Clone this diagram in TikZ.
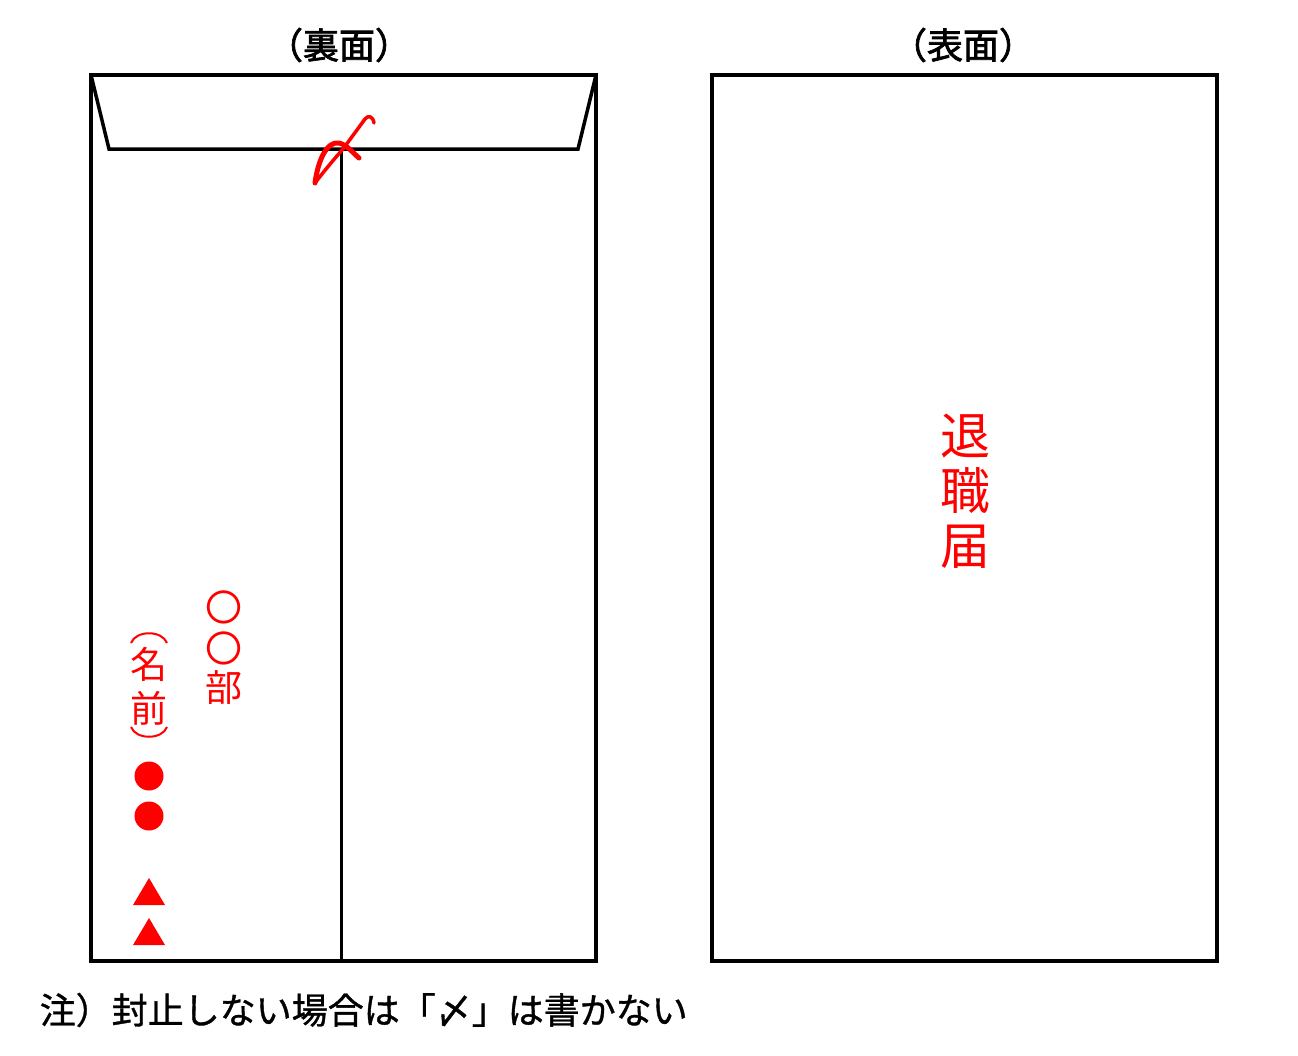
\documentclass[tikz,border=0pt]{standalone}
\usepackage{fontspec}
\setmainfont{Noto Sans CJK JP}
\newfontfamily\jpbold[FakeBold=2]{Noto Sans CJK JP}
\newfontfamily\jpmid[FakeBold=1]{Noto Sans CJK JP}
\definecolor{sealred}{RGB}{255,0,0}
\tikzset{
  redtxt/.style={text=sealred,font=\fontsize{37}{37}\selectfont,inner sep=0pt},
  bigred/.style={text=sealred,font=\fontsize{50}{50}\selectfont,inner sep=0pt},
  seal/.style={draw=sealred,line width=5pt,line cap=round,line join=round}
}
\begin{document}
\begin{tikzpicture}[x=1pt,y=-1pt,line width=3.5pt]
  \useasboundingbox (0,0) rectangle (1298,1055);
  % titles
  \node[font=\jpbold\fontsize{36}{36}\selectfont] (ura) at (339,45) {（裏面）};
  \node[font=\jpbold\fontsize{36}{36}\selectfont] (omote) at (963,45) {（表面）};
  % back of envelope
  \draw (91,75) rectangle (596,961);
  \draw (91,75) -- (109,149) -- (578,149) -- (596,75);
  \draw[line width=3pt] (341,149) -- (341,961);
  % seal mark
  \draw[seal] (315,183) .. controls (318,160) and (327,141) .. (339,143)
        .. controls (347,145) and (352,152) .. (359,158);
  \draw[seal, line width=3.5pt] (315,183) .. controls (325,170) and (335,158) .. (343,149) -- (365,119)
        .. controls (368,115) and (373,116) .. (374,123);
  % department
  \foreach \c/\y [count=\i] in {〇/607,〇/648,部/688}
    \node[redtxt] (bu\i) at (224,\y) {\c};
  % name
  \draw[sealred,line width=2pt] (131,643) .. controls (136,630) and (162,630) .. (167,643);
  \foreach \c/\y [count=\i] in {名/664,前/708}
    \node[redtxt] (na\i) at (149,\y) {\c};
  \draw[sealred,line width=2pt] (131,727) .. controls (136,740) and (162,740) .. (167,727);
  \foreach \y in {776,816}
    \fill[sealred] (149,\y) circle (14.5);
  \foreach \y in {878,918}
    \fill[sealred] (149,\y) -- (165,\y+27) -- (133,\y+27) -- cycle;
  % front of envelope
  \draw (712,75) rectangle (1217,961);
  \foreach \c/\y [count=\i] in {退/436,職/491,届/547}
    \node[bigred] (ti\i) at (965,\y) {\c};
  % note
  \node[anchor=west,inner sep=0pt,font=\jpmid\fontsize{36}{36}\selectfont] (chu) at (38,1010) {注）封止しない場合は「〆」は書かない};
\end{tikzpicture}
\end{document}
